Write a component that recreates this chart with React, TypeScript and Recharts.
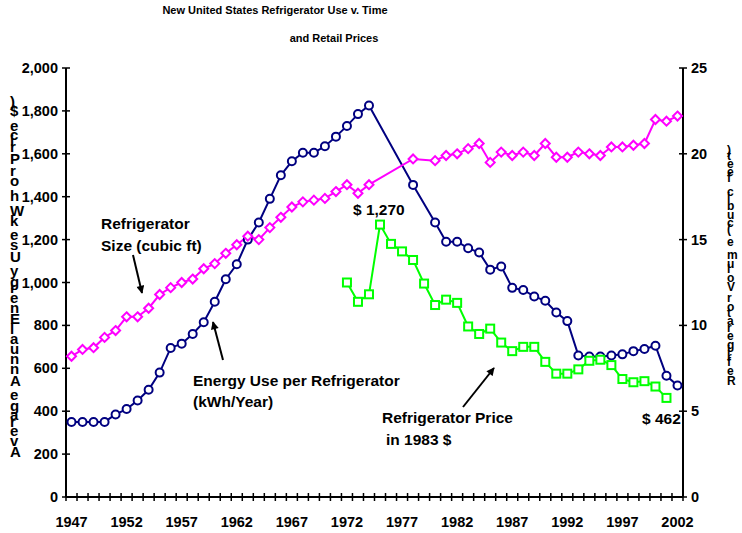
import { LineChart, Line, XAxis, YAxis } from 'recharts';

const years = [
  1947, 1948, 1949, 1950, 1951, 1952, 1953, 1954, 1955, 1956, 1957, 1958, 1959, 1960,
  1961, 1962, 1963, 1964, 1965, 1966, 1967, 1968, 1969, 1970, 1971, 1972, 1973, 1974,
  1975, 1976, 1977, 1978, 1979, 1980, 1981, 1982, 1983, 1984, 1985, 1986, 1987, 1988,
  1989, 1990, 1991, 1992, 1993, 1994, 1995, 1996, 1997, 1998, 1999, 2000, 2001, 2002,
];

// kWh / year
const energyUse = [
  350, 350, 350, 350, 385, 410, 450, 500, 580, 695, 715, 760, 815, 910,
  1015, 1085, 1200, 1280, 1390, 1500, 1565, 1605, 1605, 1635, 1680, 1730, 1785, 1825,
  null, null, null, 1455, null, 1280, 1190, 1190, 1160, 1140, 1060, 1075, 975, 965,
  935, 915, 860, 820, 660, 655, 655, 660, 665, 680, 690, 705, 565, 520,
];

// cubic ft
const fridgeSize = [
  8.2, 8.6, 8.7, 9.3, 9.7, 10.5, 10.5, 11.0, 11.8, 12.2, 12.5, 12.7, 13.3, 13.6,
  14.2, 14.7, 15.2, 15.0, 15.7, 16.3, 16.9, 17.2, 17.3, 17.4, 17.8, 18.2, 17.7, 18.2,
  null, null, null, 19.7, null, 19.6, 19.9, 20.0, 20.3, 20.6, 19.5, 20.1, 19.9, 20.1,
  19.9, 20.6, 19.8, 19.8, 20.1, 20.0, 19.9, 20.4, 20.4, 20.5, 20.6, 22.0, 21.9, 22.2,
];

// 1983 $
const retailPrice = [
  null, null, null, null, null, null, null, null, null, null, null, null, null, null,
  null, null, null, null, null, null, null, null, null, null, null, 1000, 910, 945,
  1270, 1180, 1145, 1105, 995, 895, 920, 905, 795, 760, 785, 720, 680, 700,
  700, 630, 575, 575, 595, 635, 640, 615, 550, 535, 540, 515, 462, null,
];

const leftTicks = [0, 200, 400, 600, 800, 1000, 1200, 1400, 1600, 1800, 2000];
const rightTicks = [0, 5, 10, 15, 20, 25];
const yearLabels = [1947, 1952, 1957, 1962, 1967, 1972, 1977, 1982, 1987, 1992, 1997, 2002];

const data = years.map((year, i) => ({
  year,
  energy: energyUse[i],
  size: fridgeSize[i],
  price: retailPrice[i],
}));

// tick marks sit on the category boundaries, labels in the middle
const boundaryTicks = [...years.map((y) => y - 0.5), years[years.length - 1] + 0.5];

const FONT = '"Liberation Sans", Arial, sans-serif';
const HALF_STEP = (683 - 66) / years.length / 2;

const XTick = (props: any) => {
  const { x, y, payload } = props;
  const year = payload.value + 0.5;
  return (
    <g>
      <line x1={x} x2={x} y1={y - 4} y2={y + 4} stroke="#000" strokeWidth={1.5} />
      {yearLabels.includes(year) && (
        <text x={x + HALF_STEP} y={y + 30} textAnchor="middle" fontSize={14.5} fontWeight="bold" fontFamily={FONT} fill="#000">
          {year}
        </text>
      )}
    </g>
  );
};

const LeftTick = (props: any) => {
  const { x, y, payload } = props;
  return (
    <g>
      <line x1={x - 4} x2={x + 4} y1={y} y2={y} stroke="#000" strokeWidth={1.5} />
      <text x={x - 8} y={y + 5} textAnchor="end" fontSize={14.5} fontWeight="bold" fontFamily={FONT} fill="#000">
        {payload.value.toLocaleString('en-US')}
      </text>
    </g>
  );
};

const RightTick = (props: any) => {
  const { x, y, payload } = props;
  return (
    <g>
      <line x1={x - 4} x2={x + 4} y1={y} y2={y} stroke="#000" strokeWidth={1.5} />
      <text x={x + 8} y={y + 5} textAnchor="start" fontSize={14.5} fontWeight="bold" fontFamily={FONT} fill="#000">
        {payload.value}
      </text>
    </g>
  );
};

const CircleDot = (p: any) =>
  p.cy == null ? <g key={`c${p.index}`} /> : (
    <circle key={`c${p.index}`} cx={p.cx} cy={p.cy} r={4} fill="#fff" stroke="#000080" strokeWidth={2} />
  );

const DiamondDot = (p: any) =>
  p.cy == null ? <g key={`d${p.index}`} /> : (
    <polygon
      key={`d${p.index}`}
      points={`${p.cx},${p.cy - 4.5} ${p.cx + 4.5},${p.cy} ${p.cx},${p.cy + 4.5} ${p.cx - 4.5},${p.cy}`}
      fill="#fff"
      stroke="#FF00FF"
      strokeWidth={2}
    />
  );

const SquareDot = (p: any) =>
  p.cy == null ? <g key={`s${p.index}`} /> : (
    <rect key={`s${p.index}`} x={p.cx - 4} y={p.cy - 4} width={8} height={8} fill="#fff" stroke="#00FF00" strokeWidth={2} />
  );

const labelStyle = { fontFamily: FONT, fontWeight: 'bold' as const, fontSize: 15.5, fill: '#000' };

export default function App() {
  return (
    <div style={{ position: 'absolute', left: 0, top: 0, width: 742, height: 533, background: '#fff' }}>
      <LineChart width={742} height={533} data={data} margin={{ top: 68, right: 0, bottom: 0, left: 0 }}>
        <XAxis
          dataKey="year"
          type="number"
          domain={[1946.5, 2002.5]}
          ticks={boundaryTicks}
          interval={0}
          height={36}
          tickSize={0}
          tickMargin={0}
          tick={<XTick />}
          axisLine={{ stroke: '#000', strokeWidth: 2 }}
        />
        <YAxis
          yAxisId="left"
          domain={[0, 2000]}
          ticks={leftTicks}
          interval={0}
          width={66}
          tickSize={0}
          tickMargin={0}
          tick={<LeftTick />}
          axisLine={{ stroke: '#000', strokeWidth: 2 }}
        />
        <YAxis
          yAxisId="right"
          orientation="right"
          domain={[0, 25]}
          ticks={rightTicks}
          interval={0}
          width={59}
          tickSize={0}
          tickMargin={0}
          tick={<RightTick />}
          axisLine={{ stroke: '#000', strokeWidth: 2 }}
        />
        <Line
          yAxisId="left"
          dataKey="energy"
          stroke="#000080"
          strokeWidth={2}
          dot={CircleDot}
          connectNulls
          isAnimationActive={false}
        />
        <Line
          yAxisId="right"
          dataKey="size"
          stroke="#FF00FF"
          strokeWidth={2}
          dot={DiamondDot}
          connectNulls
          isAnimationActive={false}
        />
        <Line
          yAxisId="left"
          dataKey="price"
          stroke="#00FF00"
          strokeWidth={2}
          dot={SquareDot}
          connectNulls
          isAnimationActive={false}
        />
      </LineChart>

      <svg width={742} height={533} style={{ position: 'absolute', left: 0, top: 0, pointerEvents: 'none' }}>
        <defs>
          <marker id="ah" viewBox="0 0 10 10" refX="9" refY="5" markerWidth="10" markerHeight="8" markerUnits="userSpaceOnUse" orient="auto">
            <path d="M0,0 L10,5 L0,10 z" fill="#000" />
          </marker>
        </defs>

        <text x={275} y={14} textAnchor="middle" fontFamily={FONT} fontWeight="bold" fontSize={11}>
          New United States Refrigerator Use v. Time
        </text>
        <text x={334} y={42} textAnchor="middle" fontFamily={FONT} fontWeight="bold" fontSize={11}>
          and Retail Prices
        </text>

        <text transform="translate(10,457) rotate(-90)" rotate="90" textLength={355} lengthAdjust="spacing" fontFamily={FONT} fontWeight="bold" fontSize={15}>
          Average Annual Energy Use kWh or Price $)
        </text>
        <text transform="translate(727,385) rotate(-90)" rotate="90" textLength={235} lengthAdjust="spacing" fontFamily={FONT} fontWeight="bold" fontSize={12}>
          Refrigerator Volume (cubic feet)
        </text>

        <text x={101} y={229} style={labelStyle}>Refrigerator</text>
        <text x={101} y={251} style={labelStyle}>Size (cubic ft)</text>
        <line x1={133} y1={255} x2={142} y2={293} stroke="#000" strokeWidth={2} markerEnd="url(#ah)" />

        <text x={193} y={386} style={labelStyle}>Energy Use per Refrigerator</text>
        <text x={193} y={407} style={labelStyle}>(kWh/Year)</text>
        <line x1={223} y1={360} x2={213} y2={322} stroke="#000" strokeWidth={2} markerEnd="url(#ah)" />

        <text x={382} y={423} style={labelStyle}>Refrigerator Price</text>
        <text x={386} y={445} style={labelStyle}>in 1983 $</text>
        <line x1={463} y1={407} x2={494} y2={368} stroke="#000" strokeWidth={2} markerEnd="url(#ah)" />

        <text x={353} y={215} style={labelStyle}>$ 1,270</text>
        <text x={642} y={424} style={labelStyle}>$ 462</text>
      </svg>
    </div>
  );
}
